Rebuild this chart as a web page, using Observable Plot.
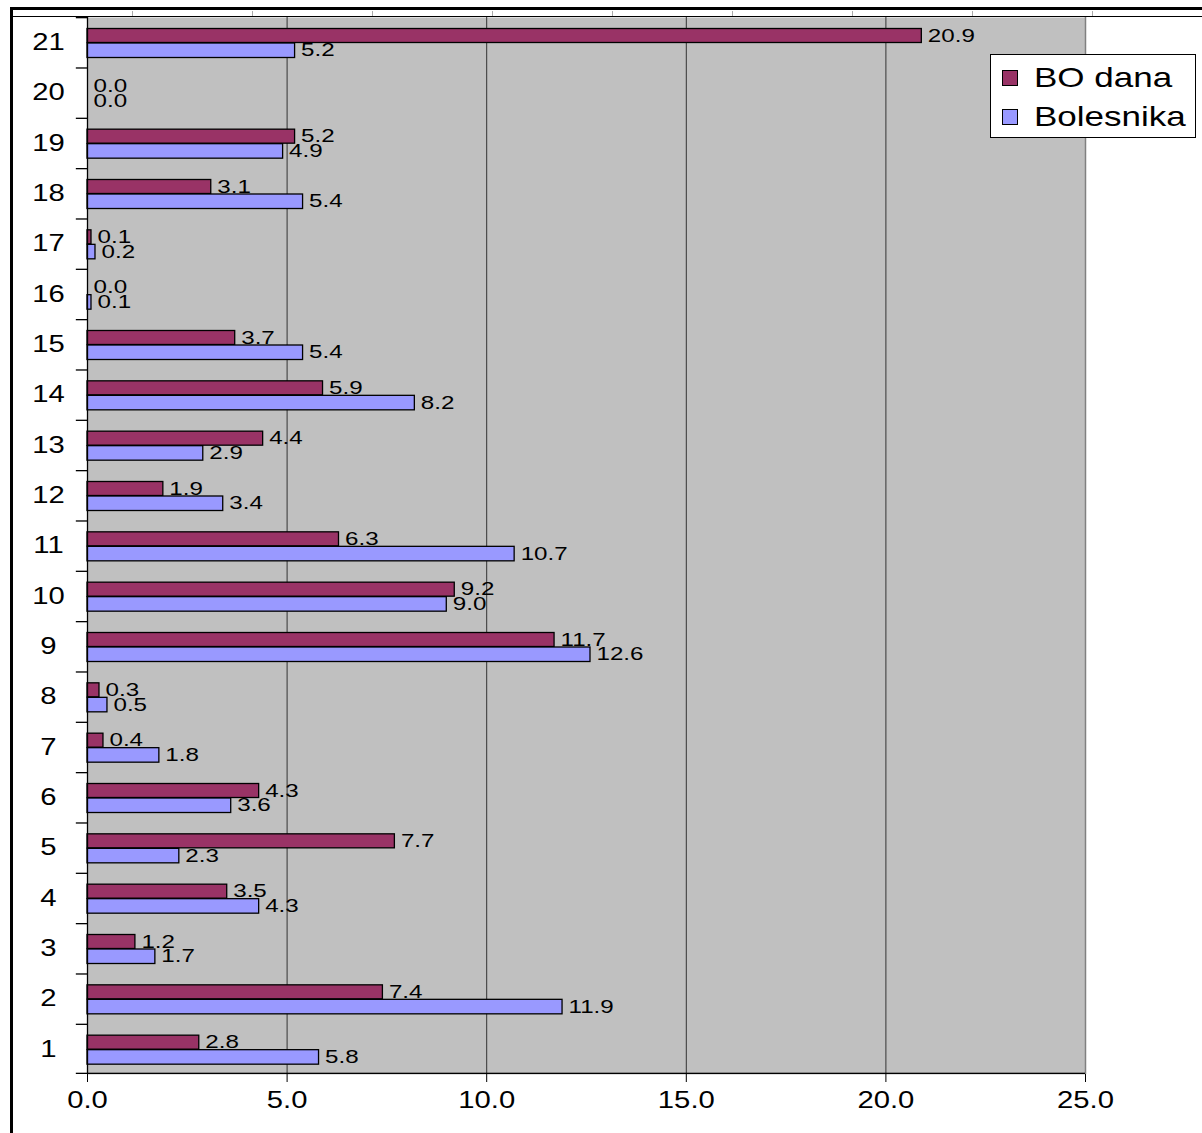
<!DOCTYPE html>
<html>
<head>
<meta charset="utf-8">
<script src="https://cdn.jsdelivr.net/npm/d3@7"></script>
<script src="https://cdn.jsdelivr.net/npm/@observablehq/plot@0.6"></script>
<style>
  html, body { margin: 0; padding: 0; background: #fff; }
  #wrap { position: relative; width: 1202px; height: 1133px; overflow: hidden; font-family: "Liberation Sans", Arial, sans-serif; }
  #wrap svg { position: absolute; left: 0; top: 0; }
  .deco { position: absolute; background: #000; }
  #legend { position: absolute; left: 990px; top: 54px; width: 206px; height: 84px; box-sizing: border-box; border: 1px solid #000; background: #fff; }
  .lrow { position: absolute; left: 11px; display: flex; align-items: center; }
  .sw { width: 16px; height: 16px; border: 1.5px solid #000; box-sizing: border-box; }
  .lt { font-size: 28px; margin-left: 16px; transform: scaleX(1.25); transform-origin: left center; white-space: nowrap; }
</style>
</head>
<body>
<div id="wrap"></div>
<script>
// ---- data ----
const categories = ["1","2","3","4","5","6","7","8","9","10","11","12","13","14","15","16","17","18","19","20","21"];
const boDana    = [2.8, 7.4, 1.2, 3.5, 7.7, 4.3, 0.4, 0.3, 11.7, 9.2, 6.3, 1.9, 4.4, 5.9, 3.7, 0.0, 0.1, 3.1, 5.2, 0.0, 20.9];
const bolesnika = [5.8, 11.9, 1.7, 4.3, 2.3, 3.6, 1.8, 0.5, 12.6, 9.0, 10.7, 3.4, 2.9, 8.2, 5.4, 0.1, 0.2, 5.4, 4.9, 0.0, 5.2];
const seriesNames = ["BO dana", "Bolesnika"];
const seriesColors = ["#993366", "#9999FF"];
const xTicks = [0, 5, 10, 15, 20, 25];

const boRows = categories.map((c, i) => ({cat: c, value: boDana[i]}));
const bolRows = categories.map((c, i) => ({cat: c, value: bolesnika[i]}));

const marginTop = 17, marginBottom = 59, H = 1133;
const bw = (H - marginTop - marginBottom) / categories.length;

const plot = Plot.plot({
  width: 1202,
  height: H,
  marginLeft: 87,
  marginRight: 117,
  marginTop,
  marginBottom,
  style: {fontFamily: "'Liberation Sans', Arial, sans-serif", background: "transparent", overflow: "visible"},
  x: {domain: [0, 25]},
  y: {type: "band", domain: categories.slice().reverse(), padding: 0, round: false, label: null},
  marks: [
    Plot.frame({fill: "#c0c0c0", stroke: null}),
    Plot.ruleX([5, 10, 15, 20], {stroke: "#333", strokeWidth: 1}),
    Plot.ruleX([25], {stroke: "#808080", strokeWidth: 1.5}),
    // bars
    Plot.barX(boRows.filter(d => d.value > 0), {x: "value", y: "cat", fill: seriesColors[0], stroke: "#000", strokeWidth: 1.3, insetTop: 11.5, insetBottom: bw - 25.5}),
    Plot.barX(bolRows.filter(d => d.value > 0), {x: "value", y: "cat", fill: seriesColors[1], stroke: "#000", strokeWidth: 1.3, insetTop: 26, insetBottom: bw - 40.5}),
    // value labels
    Plot.text(boRows, {x: "value", y: "cat", text: d => d.value.toFixed(1), dx: 6, dy: -7, textAnchor: "start", fontSize: 19, fill: "#000"}),
    Plot.text(bolRows, {x: "value", y: "cat", text: d => d.value.toFixed(1), dx: 6, dy: 7.5, textAnchor: "start", fontSize: 19, fill: "#000"}),
    // left axis line
    Plot.ruleX([0], {stroke: "#000", strokeWidth: 1.3}),
    // category boundary ticks (top of each band)
    Plot.barX(categories, {x1: -0.28, x2: 0, y: d => d, fill: "#000", insetTop: 0, insetBottom: bw - 1.3}),
    // bottom axis line + tick
    Plot.barX(["1"], {x1: -0.28, x2: 25, y: d => d, fill: "#000", insetTop: bw - 1.3, insetBottom: 0}),
    Plot.axisY({tickSize: 0, tickPadding: 39, textAnchor: "middle", fontSize: 23, label: null}),
    Plot.axisX({ticks: xTicks, tickFormat: d => d.toFixed(1), tickSize: 8, tickPadding: 9, fontSize: 23, label: null, stroke: "#000"})
  ]
});

const wrap = document.getElementById("wrap");
wrap.appendChild(plot);

// stretch text horizontally like the original (wide glyphs)
plot.querySelectorAll("text").forEach(t => {
  const l = t.getComputedTextLength();
  if (l > 0) {
    t.setAttribute("textLength", (l * 1.27).toFixed(1));
    t.setAttribute("lengthAdjust", "spacingAndGlyphs");
  }
});

// document frame decorations (table borders around the embedded chart)
function deco(l, t, w, h, c) {
  const d = document.createElement("div");
  d.className = "deco";
  d.style.left = l + "px"; d.style.top = t + "px"; d.style.width = w + "px"; d.style.height = h + "px";
  if (c) d.style.background = c;
  wrap.appendChild(d);
}
deco(10, 7, 1192, 3);
deco(10, 7, 3, 1126);
deco(12, 16, 1190, 1);
for (let x = 132; x < 1202; x += 120) deco(x, 11, 1, 5, "#aaa");

// legend
const lg = document.createElement("div");
lg.id = "legend";
seriesNames.forEach((n, i) => {
  const row = document.createElement("div");
  row.className = "lrow";
  row.style.top = (i === 0 ? 7 : 46) + "px";
  const sw = document.createElement("div");
  sw.className = "sw";
  sw.style.background = seriesColors[i];
  const tx = document.createElement("span");
  tx.className = "lt";
  tx.textContent = n;
  row.appendChild(sw); row.appendChild(tx);
  lg.appendChild(row);
});
wrap.appendChild(lg);
</script>
</body>
</html>
